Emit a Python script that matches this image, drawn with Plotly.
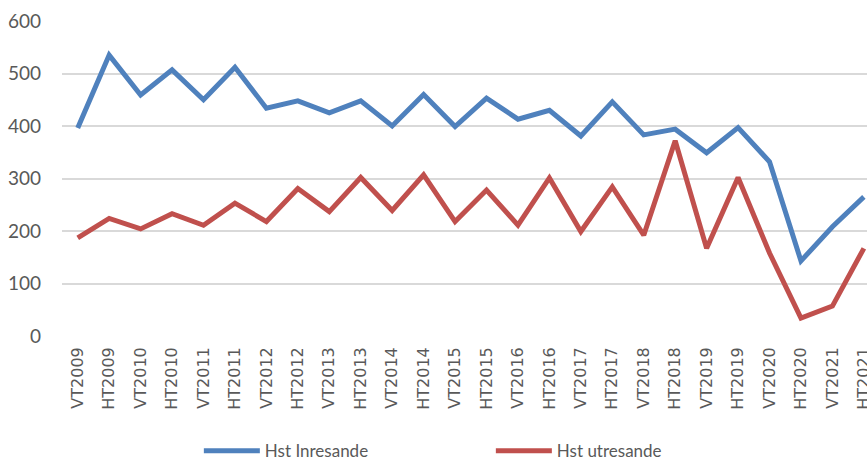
import plotly.graph_objects as go

terminer = ["VT2009", "HT2009", "VT2010", "HT2010", "VT2011", "HT2011", "VT2012",
            "HT2012", "VT2013", "HT2013", "VT2014", "HT2014", "VT2015", "HT2015",
            "VT2016", "HT2016", "VT2017", "HT2017", "VT2018", "HT2018", "VT2019",
            "HT2019", "VT2020", "HT2020", "VT2021", "HT2021"]

inresande = [396, 535, 459, 507, 450, 512, 434, 448, 425, 448, 400, 460, 399,
             453, 413, 430, 381, 446, 383, 394, 349, 397, 332, 143, 208, 265]

utresande = [187, 224, 204, 233, 211, 253, 218, 281, 237, 302, 239, 307, 218,
             278, 211, 301, 199, 284, 192, 372, 167, 302, 158, 34, 57, 167]

fig = go.Figure()
fig.add_trace(go.Scatter(x=terminer, y=inresande, name="Hst Inresande", mode="lines",
                         line=dict(color="#4F81BD", width=5)))
fig.add_trace(go.Scatter(x=terminer, y=utresande, name="Hst utresande", mode="lines",
                         line=dict(color="#C0504D", width=5)))

fig.update_layout(
    width=867, height=461,
    margin=dict(l=62, r=0, t=21, b=125, autoexpand=False),
    plot_bgcolor="white", paper_bgcolor="white",
    font=dict(family="Lato", color="#595959"),
    showlegend=True,
    legend=dict(orientation="h", x=0.17, y=-0.366, xanchor="left", yanchor="middle",
                font=dict(size=17, family="Lato", color="#595959"),
                entrywidth=221, entrywidthmode="pixels", itemwidth=56),
    xaxis=dict(range=[-0.5, 25.1], tickangle=-90, showgrid=False, zeroline=False,
               showline=False, ticks="", automargin=False, ticklabelstandoff=7,
               tickfont=dict(family="DejaVu Sans", size=16, color="#595959")),
    yaxis=dict(range=[0, 600], dtick=100, showgrid=True, gridcolor="#D9D9D9",
               gridwidth=1.5, zeroline=False, showline=False, ticks="",
               automargin=False, ticklabelstandoff=20,
               tickfont=dict(family="Lato", size=19, color="#595959")),
)

fig.write_html("out.html", config={"displayModeBar": False},
               post_script="document.body.style.margin='0';")
